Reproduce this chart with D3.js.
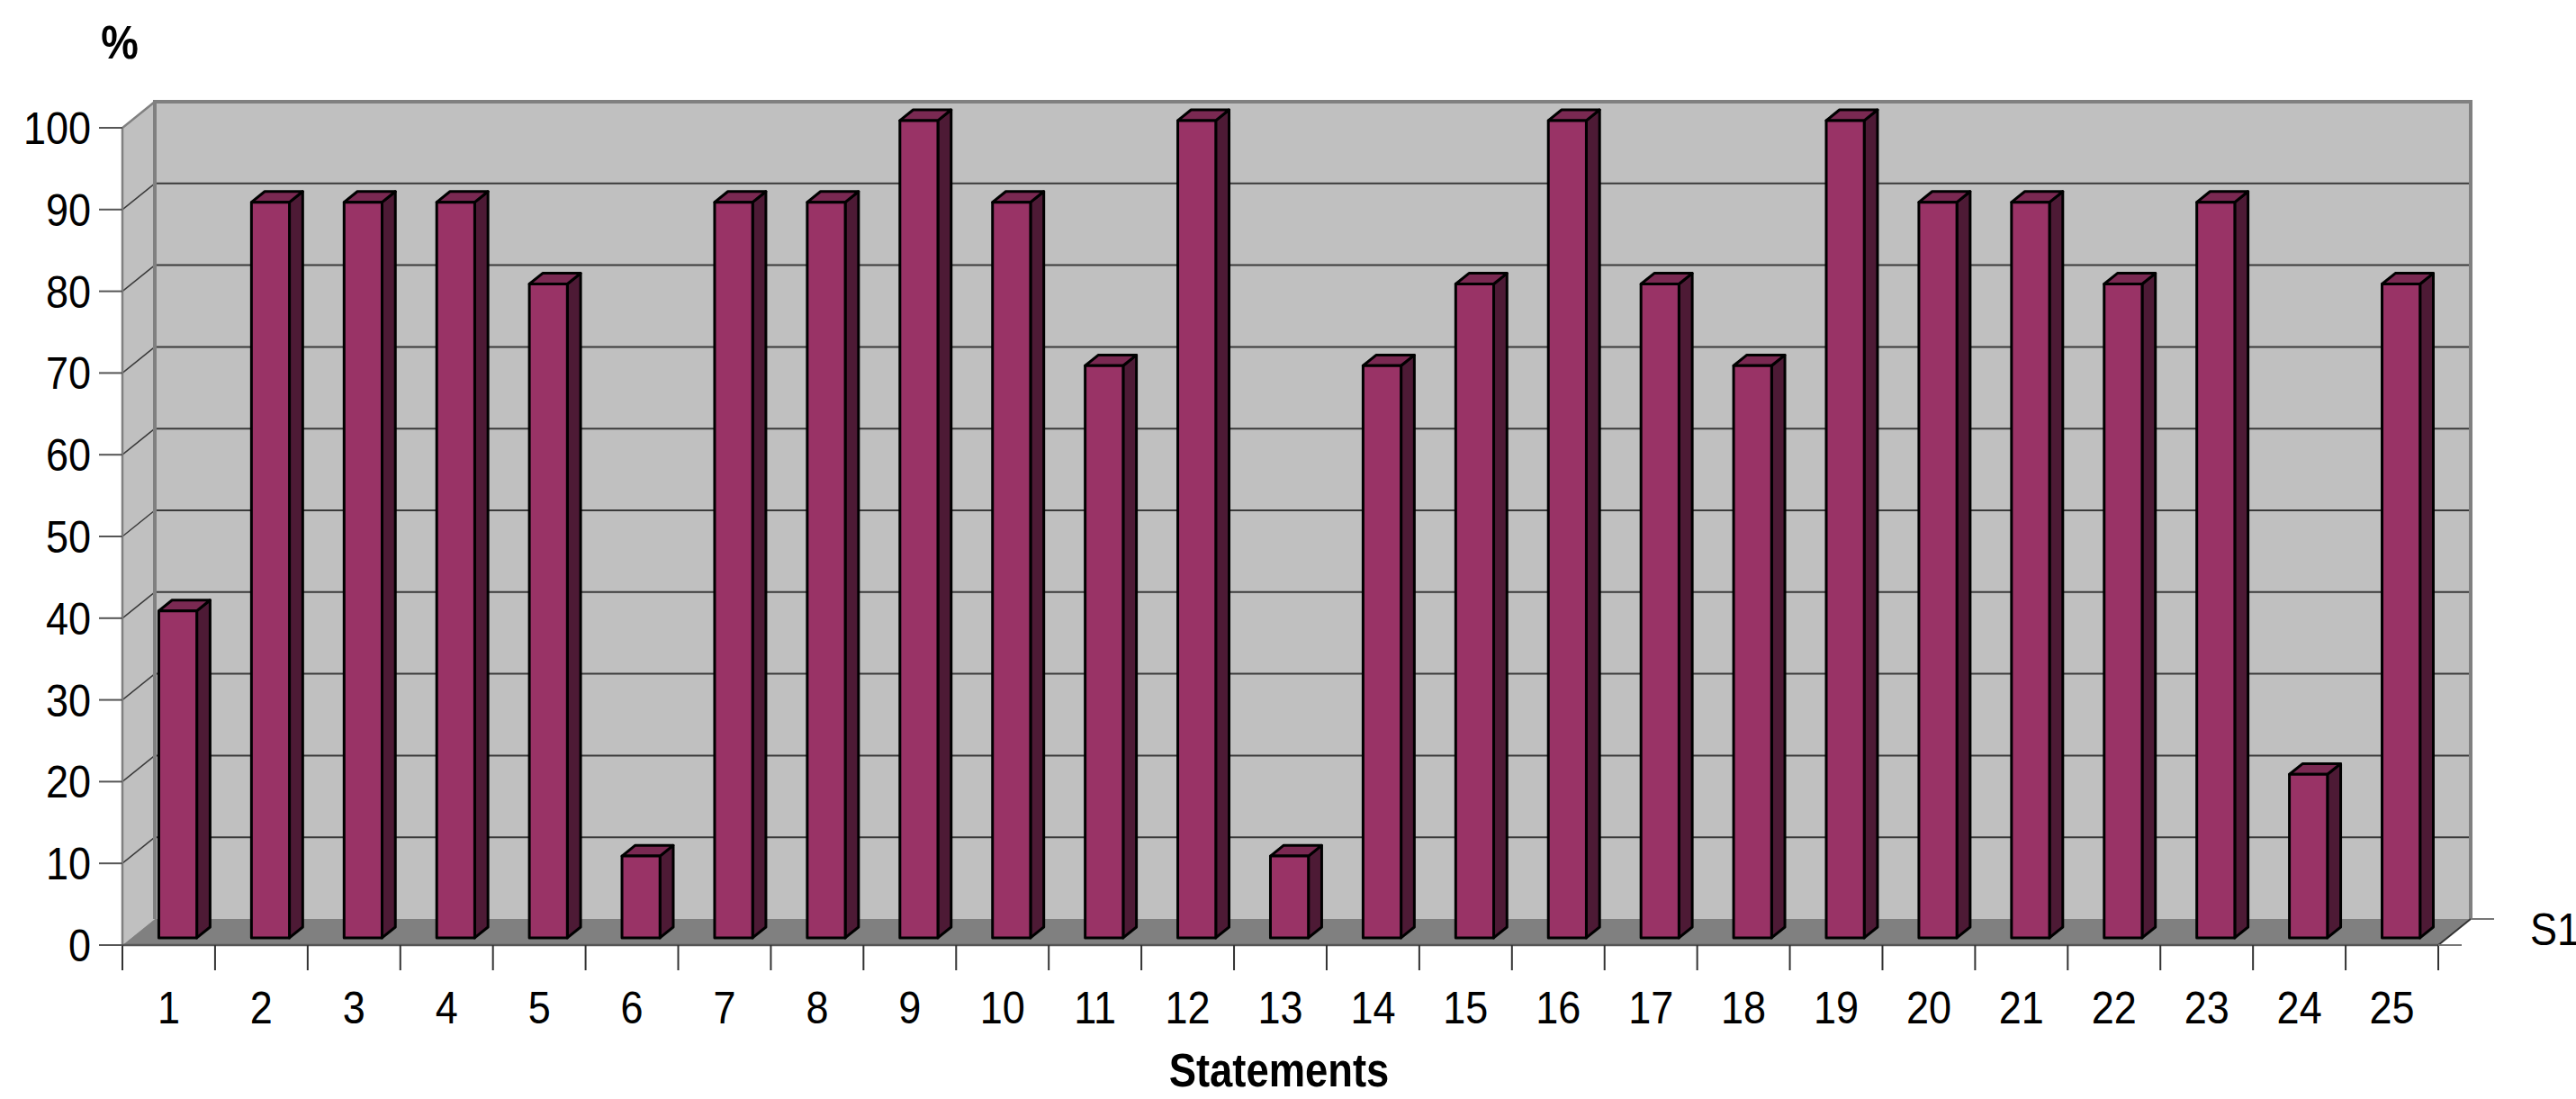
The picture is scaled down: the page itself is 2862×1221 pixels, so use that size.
<!DOCTYPE html>
<html>
<head>
<meta charset="utf-8">
<script src="https://cdn.jsdelivr.net/npm/d3@7"></script>
<style>
  html, body { margin: 0; padding: 0; background: #ffffff; }
  svg { display: block; }
  text { font-family: "Liberation Sans", Arial, sans-serif; fill: #000; }
</style>
</head>
<body>
<svg id="chart" width="2862" height="1221"></svg>
<script>
// Share of agreement per statement (single series)
const categories = ["1","2","3","4","5","6","7","8","9","10","11","12","13","14","15","16","17","18","19","20","21","22","23","24","25"];
const values = [40, 90, 90, 90, 80, 10, 90, 90, 100, 90, 70, 100, 10, 70, 80, 100, 80, 70, 100, 90, 90, 80, 90, 20, 80];
const yTicks = [0, 10, 20, 30, 40, 50, 60, 70, 80, 90, 100];
const seriesName = "S1";
const yAxisTitle = "%";
const xAxisTitle = "Statements";

(function draw() {
  const svg = d3.select("#chart");

  // Front plane of the 3D box, and the oblique depth offset to the back plane
  const plotLeft = 136, plotRight = 2709, plotBottom = 1050, plotTop = 142;
  const DX = 36, DY = -29;
  const zFront = 0.28, zBack = 0.69;   // depth span occupied by the bars
  const barFrac = 0.41;                // bar width as a share of the category band
  const squeeze = 0.9;                 // horizontal squeeze of the lettering

  const x = d3.scaleBand().domain(categories).range([plotLeft, plotRight]).padding(0);
  const y = d3.scaleLinear().domain([0, 100]).range([plotBottom, plotTop]);

  // Oblique projection: (screen x on front plane, value, depth 0..1) -> screen point
  const P = (px, v, z) => [px + z * DX, y(v) + z * DY];
  const poly = pts => pts.map(p => p.join(",")).join(" ");

  const wallFill = "#c0c0c0", floorFill = "#808080", edge = "#808080";

  // Back wall
  svg.append("polygon")
    .attr("points", poly([P(plotLeft, 0, 1), P(plotRight, 0, 1), P(plotRight, 100, 1), P(plotLeft, 100, 1)]))
    .attr("fill", wallFill);
  // Left wall
  svg.append("polygon")
    .attr("points", poly([P(plotLeft, 0, 0), P(plotLeft, 0, 1), P(plotLeft, 100, 1), P(plotLeft, 100, 0)]))
    .attr("fill", wallFill);
  // Floor
  svg.append("polygon")
    .attr("points", poly([P(plotLeft, 0, 0), P(plotRight, 0, 0), P(plotRight, 0, 1), P(plotLeft, 0, 1)]))
    .attr("fill", floorFill);

  // Gridlines on back wall and left wall
  const grid = svg.append("g");
  yTicks.filter(t => t > 0 && t < 100).forEach(t => {
    const a = P(plotLeft, t, 1), b = P(plotRight, t, 1), c = P(plotLeft, t, 0);
    grid.append("line").attr("x1", a[0]).attr("y1", a[1]).attr("x2", b[0]).attr("y2", b[1])
      .attr("stroke", "#3a3a3a").attr("stroke-width", 2);
    grid.append("line").attr("x1", c[0]).attr("y1", c[1]).attr("x2", a[0]).attr("y2", a[1])
      .attr("stroke", "#3a3a3a").attr("stroke-width", 1.5);
  });

  // Wall edges
  const edges = svg.append("g").attr("fill", "none").attr("stroke", edge);
  edges.append("polyline")
    .attr("points", poly([P(plotLeft, 0, 1), P(plotLeft, 100, 1), P(plotRight, 100, 1), P(plotRight, 0, 1)]))
    .attr("stroke-width", 4).attr("stroke-linejoin", "miter");
  edges.append("polyline")
    .attr("points", poly([P(plotLeft, 0, 0), P(plotLeft, 100, 0), P(plotLeft, 100, 1)]))
    .attr("stroke-width", 2.5);

  // Bars
  const bw = x.bandwidth() * barFrac;
  const bars = svg.append("g").selectAll("g").data(categories.map((c, i) => ({ c, v: values[i] })))
    .join("g")
    .attr("stroke", "#000").attr("stroke-width", 3).attr("stroke-linejoin", "round");

  bars.each(function (d) {
    const g = d3.select(this);
    const x0 = x(d.c) + (x.bandwidth() - bw) / 2, x1 = x0 + bw;
    // right side face
    g.append("polygon").attr("fill", "#4d1a35")
      .attr("points", poly([P(x1, 0, zFront), P(x1, 0, zBack), P(x1, d.v, zBack), P(x1, d.v, zFront)]));
    // top face
    g.append("polygon").attr("fill", "#7a2952")
      .attr("points", poly([P(x0, d.v, zFront), P(x1, d.v, zFront), P(x1, d.v, zBack), P(x0, d.v, zBack)]));
    // front face
    g.append("polygon").attr("fill", "#993366")
      .attr("points", poly([P(x0, 0, zFront), P(x1, 0, zFront), P(x1, d.v, zFront), P(x0, d.v, zFront)]));
  });

  // Category axis along the front edge of the floor
  const axis = svg.append("g").attr("stroke", "#333").attr("fill", "none");
  axis.append("line").attr("x1", plotLeft).attr("x2", plotRight).attr("y1", plotBottom).attr("y2", plotBottom)
    .attr("stroke", "#555").attr("stroke-width", 2.5);
  const boundaries = categories.map(c => x(c)).concat([plotRight]);
  boundaries.forEach(bx => {
    axis.append("line").attr("x1", bx).attr("x2", bx).attr("y1", plotBottom).attr("y2", plotBottom + 28)
      .attr("stroke-width", 2);
  });

  // Series (depth) axis at the right end of the floor
  const dFront = P(plotRight, 0, 0), dBack = P(plotRight, 0, 1);
  axis.append("line").attr("x1", dFront[0]).attr("y1", dFront[1]).attr("x2", dBack[0]).attr("y2", dBack[1])
    .attr("stroke-width", 2);
  axis.append("line").attr("x1", dFront[0]).attr("y1", dFront[1]).attr("x2", dFront[0] + 26).attr("y2", dFront[1])
    .attr("stroke", "#777").attr("stroke-width", 2);
  axis.append("line").attr("x1", dBack[0]).attr("y1", dBack[1]).attr("x2", dBack[0] + 26).attr("y2", dBack[1])
    .attr("stroke", "#777").attr("stroke-width", 2);

  // Value axis ticks
  yTicks.forEach(t => {
    axis.append("line").attr("x1", plotLeft - 26).attr("x2", plotLeft).attr("y1", y(t)).attr("y2", y(t))
      .attr("stroke", "#555").attr("stroke-width", 2);
  });

  // Text helper with horizontally squeezed lettering
  function label(txt, px, py, opts = {}) {
    return svg.append("text")
      .attr("transform", `translate(${px},${py}) scale(${opts.sx || squeeze},1)`)
      .attr("text-anchor", opts.anchor || "middle")
      .attr("font-size", opts.size || 50)
      .attr("font-weight", opts.weight || "normal")
      .text(txt);
  }

  yTicks.forEach(t => label(String(t), 101, y(t) + 18, { anchor: "end" }));
  categories.forEach(c => label(c, x(c) + x.bandwidth() / 2, 1137));
  label(seriesName, 2811, 1050, { anchor: "start" });
  label(yAxisTitle, 133, 65, { size: 52, weight: "bold" });
  label(xAxisTitle, 1421, 1207, { size: 51, weight: "bold", sx: 0.89 });
})();
</script>
</body>
</html>
